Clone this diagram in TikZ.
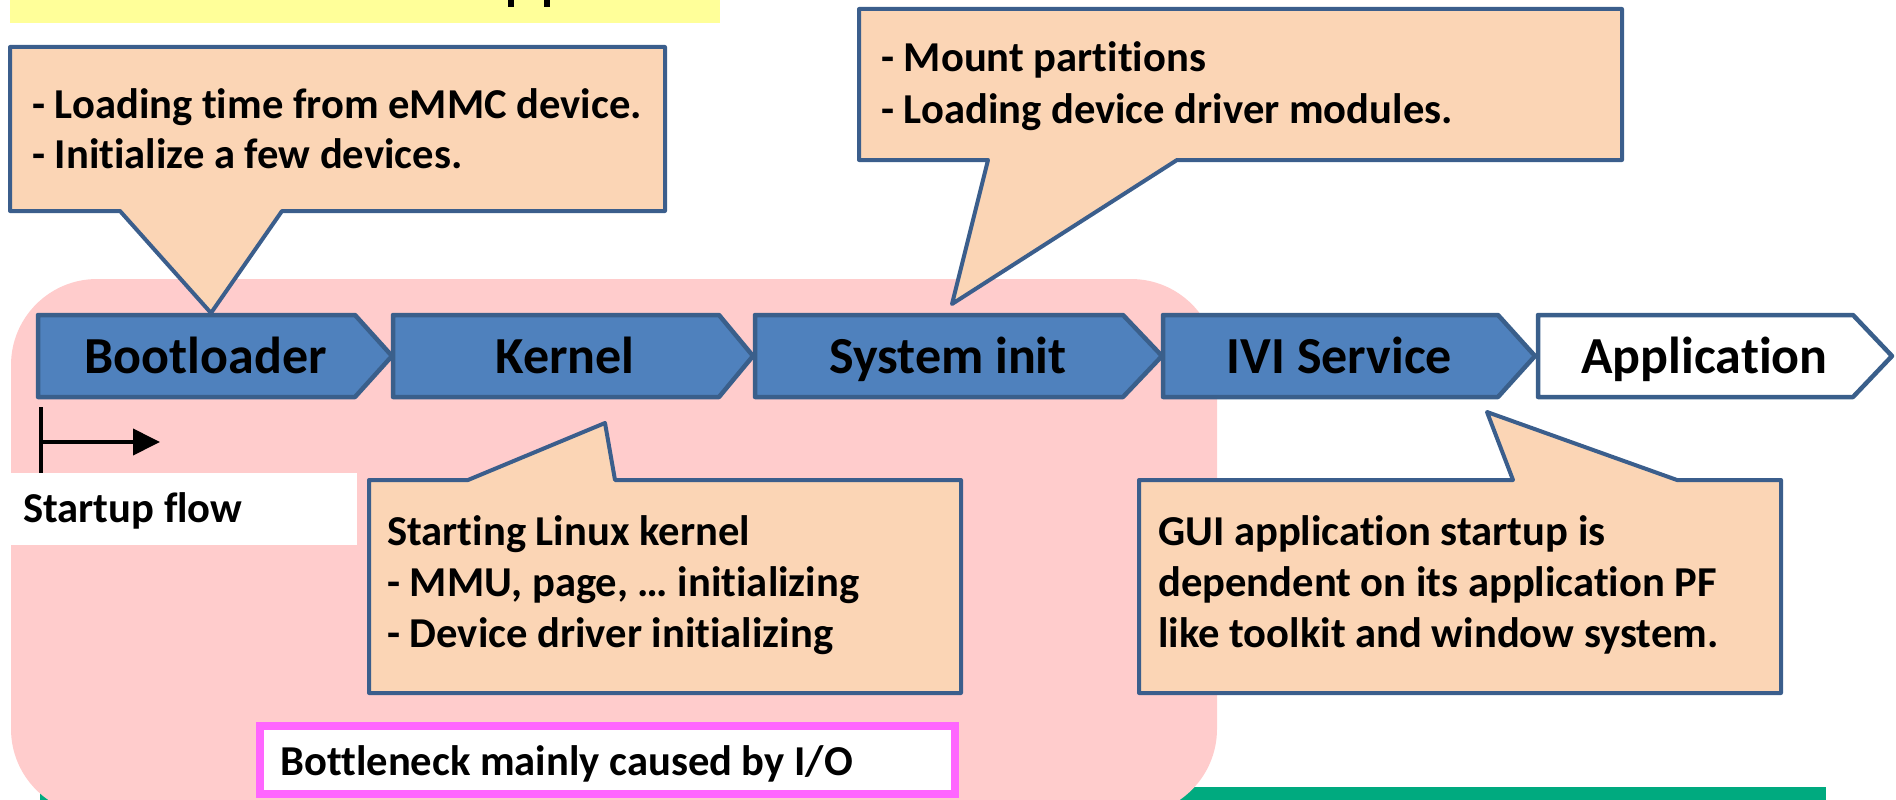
\documentclass[tikz,border=0pt]{standalone}
\usepackage{fontspec}
\setmainfont{Carlito}[Ligatures=NoCommon]
\usetikzlibrary{arrows.meta}

\definecolor{stepblue}{HTML}{4F81BD}
\definecolor{stepedge}{HTML}{3A5F8B}
\definecolor{notefill}{HTML}{FBD5B5}
\definecolor{noteedge}{HTML}{3B5E8C}
\definecolor{ioregion}{HTML}{FFCCCC}
\definecolor{banner}{HTML}{FFFF99}
\definecolor{rulegreen}{HTML}{00AA7F}
\definecolor{ioframe}{HTML}{FF66FF}

\tikzset{
  stagebox/.style={draw=stepedge, line width=4.5pt, line join=round},
  stagetext/.style={font=\fontsize{52}{60}\selectfont\bfseries, text=black,
    inner sep=0pt, anchor=base},
  notebox/.style={fill=notefill, draw=noteedge, line width=4pt, line join=round},
  notetext/.style={font=\fontsize{42.6}{50}\selectfont\bfseries, text=black,
    inner sep=0pt, anchor=base west},
}

% stage arrow: name, left x, notch x, tip x, fill colour, label
\newcommand\stagearrow[6]{%
  \draw[stagebox, fill=#5] (#2,315) -- (#3,315) -- (#4,356) -- (#3,397)
    -- (#2,397) -- cycle;
  \node[stagetext] (#1) at ({(#2+#3)/2+9},373) {#6};
}

\begin{document}
\begin{tikzpicture}[x=1pt,y=-1pt]
\useasboundingbox (0,0) rectangle (1896,800);
\begin{scope}
\clip (0,0) rectangle (1896,800);

% title strip at the top edge
\fill[banner] (10,0) rectangle (720,23);
\fill[black] (508,0) rectangle (514,7);
\fill[black] (544,0) rectangle (550,7);

% bottom rule
\fill[rulegreen] (40,787) rectangle (1826,800);

% I/O-bound region
\fill[ioregion, rounded corners=86pt] (11,279) rectangle (1217,815);

% startup stages
\stagearrow{boot}{38}{355}{392}{stepblue}{Bootloader}
\stagearrow{kernel}{393}{719}{753}{stepblue}{Kernel}
\stagearrow{sysinit}{755}{1123}{1162}{stepblue}{System init}
\stagearrow{ivi}{1163}{1498}{1535}{stepblue}{IVI Service}
\stagearrow{app}{1538}{1853}{1892}{white}{Application}

% callouts
\draw[notebox] (10,47) -- (665,47) -- (665,211) -- (282,211) -- (211,313)
  -- (120,211) -- (10,211) -- cycle;
\node[notetext] (bootnoteA) at (32,118) {- Loading time from eMMC device.};
\node[notetext] (bootnoteB) at (32,168) {- Initialize a few devices.};

\draw[notebox] (859,9) -- (1622,9) -- (1622,160) -- (1177,160) -- (952,304)
  -- (988,160) -- (859,160) -- cycle;
\node[notetext] (sysnoteA) at (881,72) {- Mount partitions};
\node[notetext] (sysnoteB) at (881,123) {- Loading device driver modules.};

\draw[notebox] (369,480) -- (468,480) -- (605,423) -- (615,480) -- (961,480)
  -- (961,693) -- (369,693) -- cycle;
\node[notetext] (kernoteA) at (387,545) {Starting Linux kernel};
\node[notetext] (kernoteB) at (387,596) {- MMU, page, … initializing};
\node[notetext] (kernoteC) at (387,647) {- Device driver initializing};

\draw[notebox] (1139,480) -- (1513,480) -- (1487,412) -- (1677,480) -- (1781,480)
  -- (1781,693) -- (1139,693) -- cycle;
\node[notetext] (appnoteA) at (1158,545) {GUI application startup is};
\node[notetext] (appnoteB) at (1158,596) {dependent on its application PF};
\node[notetext] (appnoteC) at (1158,647) {like toolkit and window system.};

% startup flow marker
\coordinate (flowstart) at (41,442);
\coordinate (flowend) at (160,442);
\draw[line width=4pt] (41,407) -- (41,473);
\draw[line width=4pt, -{Triangle[length=27pt,width=26pt]}] (flowstart) -- (flowend);
\fill[white] (11,473) rectangle (357,545);
\node[notetext] (flowlabel) at (23,522) {Startup flow};

% bottleneck note
\draw[ioframe, line width=8pt, fill=white] (260,726) rectangle (955,794);
\node[notetext] (iolabel) at (280,775) {Bottleneck mainly caused by I/O};
\end{scope}
\end{tikzpicture}
\end{document}
